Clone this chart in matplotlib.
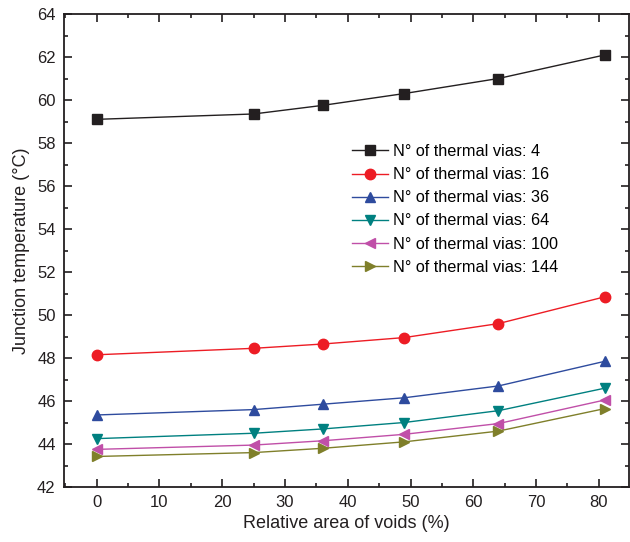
import matplotlib
matplotlib.use('Agg')
import matplotlib.pyplot as plt
from matplotlib.ticker import MultipleLocator

plt.rcParams['font.family'] = ['Liberation Sans', 'DejaVu Sans']

voids = [0, 25, 36, 49, 64, 81]
t_4 = [59.1, 59.35, 59.75, 60.3, 61.0, 62.1]
t_16 = [48.15, 48.45, 48.65, 48.95, 49.6, 50.85]
t_36 = [45.35, 45.6, 45.85, 46.15, 46.7, 47.85]
t_64 = [44.25, 44.5, 44.7, 45.0, 45.55, 46.6]
t_100 = [43.75, 43.95, 44.15, 44.45, 44.95, 46.05]
t_144 = [43.42, 43.6, 43.8, 44.1, 44.6, 45.65]

series = [
    (t_4, '4', '#231f20', 's', 6.8),
    (t_16, '16', '#ed1c24', 'o', 7.5),
    (t_36, '36', '#2e4b9e', '^', 7.5),
    (t_64, '64', '#008080', 'v', 7.5),
    (t_100, '100', '#c04fa8', '<', 7.5),
    (t_144, '144', '#7f7f2a', '>', 7.5),
]

fig = plt.figure(figsize=(6.3, 5.42), dpi=100)
ax = fig.add_axes([64 / 630, 55 / 542, 565 / 630, 473 / 542])

for vals, n, c, m, ms in series:
    ax.plot(voids, vals, color=c, marker=m, markersize=ms, linewidth=1,
            label='N° of thermal vias: ' + n)

ax.set_xlim(-5.2, 84.8)
ax.set_ylim(42, 64)
ax.xaxis.set_major_locator(MultipleLocator(10))
ax.xaxis.set_minor_locator(MultipleLocator(5))
ax.yaxis.set_major_locator(MultipleLocator(2))
ax.yaxis.set_minor_locator(MultipleLocator(1))
ax.tick_params(which='both', direction='in', top=True, right=True, width=1.2,
               labelsize=12, colors='#231f20', pad=6)
ax.tick_params(which='major', length=6)
ax.tick_params(which='minor', length=3)
for s in ax.spines.values():
    s.set_linewidth(1.3)
    s.set_color('#231f20')

ax.set_xlabel('Relative area of voids (%)', fontsize=13, color='#231f20', labelpad=3)
ax.set_ylabel('Junction temperature (°C)', fontsize=13, color='#231f20', labelpad=5)

ax.legend(loc='upper left', bbox_to_anchor=(0.51, 0.725), frameon=False, fontsize=11.7,
          handlelength=2.2, handletextpad=0.3, labelspacing=0.5, borderpad=0,
          borderaxespad=0)

fig.savefig('out.png', dpi=100)
